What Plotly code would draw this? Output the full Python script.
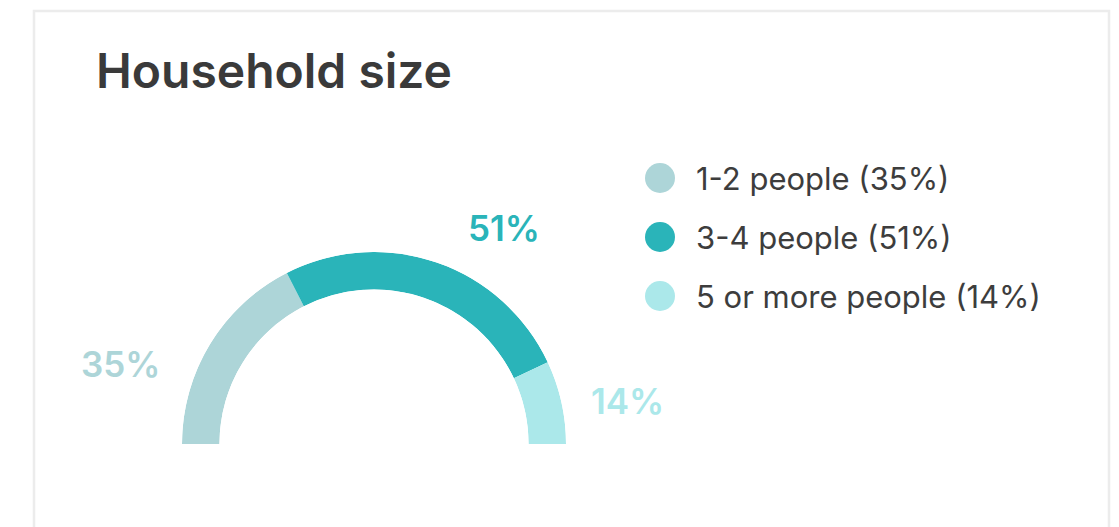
import plotly.graph_objects as go

# Household size distribution (share of households, %)
categories = ["1-2 people", "3-4 people", "5 or more people"]
shares = [35, 51, 14]
colors = ["#add5d8", "#2ab4b9", "#abe8ea"]

W, H = 1119, 527
FONT = "Inter"


def px(x, y):
    """Convert pixel position on the canvas to paper coordinates."""
    return x / W, 1 - y / H


# Semi-donut: 100% spans 180 degrees of a half circle
total = sum(shares)
spans = [s / total * 180 for s in shares]
mids = []
acc = 0
for sp in spans:
    mids.append(acc + sp / 2)
    acc += sp

fig = go.Figure()
for cat, s, sp, m, c in zip(categories, shares, spans, mids, colors):
    fig.add_trace(go.Barpolar(
        r=[1], theta=[m], width=[sp], base=0,
        marker=dict(color=c, line=dict(width=0)),
        name=cat, hoverinfo="skip", showlegend=False,
    ))

# Donut geometry (pixels): center and outer radius
cx, cy, R = 374, 444, 192
x0, y0 = px(cx - R, cy)
x1, y1 = px(cx + R, cy - R)

annotations = []
# Title
tx, ty = px(94, 70)
annotations.append(dict(x=tx, y=ty, xref="paper", yref="paper", text="Household size",
                        showarrow=False, xanchor="left", yanchor="middle",
                        font=dict(family=FONT, size=48, weight=600, color="#3a3a3a")))

# Percentage labels around the arc
label_pos = [(120, 364), (504, 228), (627, 401)]
for s, c, (lx, ly) in zip(shares, colors, label_pos):
    ax, ay = px(lx, ly)
    annotations.append(dict(x=ax, y=ay, xref="paper", yref="paper", text=f"{s}%",
                            showarrow=False, xanchor="center", yanchor="middle",
                            font=dict(family=FONT, size=35, weight=600, color=c)))

# Legend: colored dots with category names
shapes = []
legend_rows = [178, 237, 296]
for cat, s, c, ry in zip(categories, shares, colors, legend_rows):
    dx0, dy0 = px(645, ry + 15)
    dx1, dy1 = px(675, ry - 15)
    shapes.append(dict(type="circle", xref="paper", yref="paper", x0=dx0, y0=dy0, x1=dx1, y1=dy1,
                       fillcolor=c, line=dict(width=0)))
    lx, ly = px(694, ry)
    annotations.append(dict(x=lx, y=ly, xref="paper", yref="paper", text=f"{cat} ({s}%)",
                            showarrow=False, xanchor="left", yanchor="middle",
                            font=dict(family=FONT, size=31, weight=400, color="#3d3d3d")))

# Card border
bx0, by0 = px(34, 11)
bx1, _ = px(1109, 0)
shapes.append(dict(type="rect", xref="paper", yref="paper", x0=bx0, y0=-0.2, x1=bx1, y1=by0,
                   line=dict(color="#ececec", width=2.5), fillcolor="rgba(0,0,0,0)", layer="below"))

fig.update_layout(
    width=W, height=H,
    margin=dict(l=0, r=0, t=0, b=0),
    paper_bgcolor="white", plot_bgcolor="white",
    showlegend=False,
    polar=dict(
        domain=dict(x=[x0, x1], y=[y0, y1]),
        sector=[0, 180], hole=0.805,
        bgcolor="rgba(0,0,0,0)",
        radialaxis=dict(visible=False, range=[0, 1]),
        angularaxis=dict(visible=False, direction="clockwise", rotation=180),
        bargap=0,
    ),
    annotations=annotations,
    shapes=shapes,
)

fig.write_html("out.html", config={"displayModeBar": False})
